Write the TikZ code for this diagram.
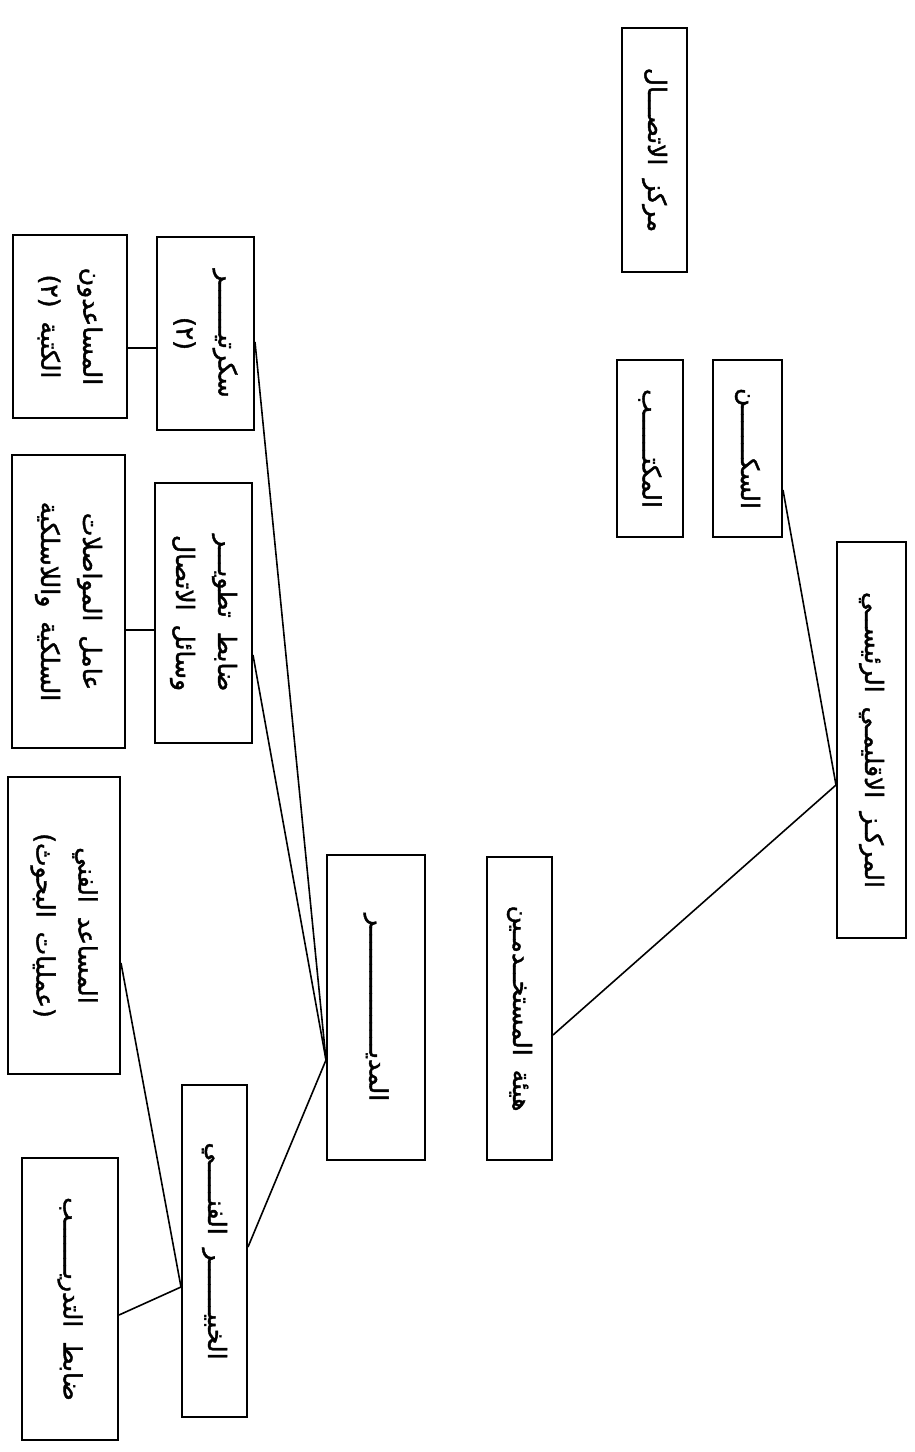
\documentclass[tikz,border=0pt]{standalone}
\usepackage{fontspec}
\newfontfamily\arabicfont[Script=Arabic, FakeBold=1.6]{DejaVu Sans}
\TeXXeTstate=1
\newcommand\arsetup{\arabicfont\fontsize{25}{42}\selectfont\spaceskip=14pt plus 4pt minus 2pt\relax}
\begin{document}
\begin{tikzpicture}[x=1pt,y=-1pt,
  box/.style={draw, line width=2pt, rotate=-90, inner sep=0pt, align=center, font=\arsetup},
  link/.style={line width=1.6pt}]
\useasboundingbox[fill=white] (0,0) rectangle (914,1452);
% top-level / right column
\node[box, minimum width=244pt, minimum height=65pt] (ittisal) at (654.5,150) {\beginR مركز الاتصـــال\endR};
\node[box, minimum width=177pt, minimum height=69pt] (sakan) at (747.5,448.5) {\beginR السكـــــــن\endR};
\node[box, minimum width=177pt, minimum height=66pt] (maktab) at (650,448.5) {\beginR المكتــــــب\endR};
\node[box, minimum width=396pt, minimum height=69pt] (root) at (871.5,740) {\beginR المركـز الاقليمـي الرئيســي\endR};
\node[box, minimum width=303pt, minimum height=65pt] (hayaa) at (519.5,1008.5) {\beginR هيئة المستخــدمـين\endR};
\node[box, minimum width=305pt, minimum height=98pt] (mudir) at (376,1007.5) {\beginR المديـــــــــــــــــر\endR};
% second level
\node[box, minimum width=193pt, minimum height=97pt] (sec) at (205.5,333.5) {\beginR سكرتيـــــــر\endR\\\beginR(٢)\endR};
\node[box, minimum width=183pt, minimum height=114pt] (clerks) at (70,326.5) {\beginR المساعدون\endR\\\beginR الكتبة (٢)\endR};
\node[box, minimum width=260pt, minimum height=97pt] (dev) at (203.5,613) {\beginR ضابط تطويـــر\endR\\\beginR وسائل الاتصال\endR};
\node[box, minimum width=293pt, minimum height=113pt] (wire) at (68.5,601.5) {\beginR عامل المواصلات\endR\\\beginR السلكية واللاسلكية\endR};
\node[box, minimum width=297pt, minimum height=112pt] (asst) at (64,925.5) {\beginR المساعد الفني\endR\\\beginR (عمليات البحوث)\endR};
\node[box, minimum width=332pt, minimum height=65pt] (khabir) at (214.5,1251) {\beginR الخبيـــــــر الفنـــــي\endR};
\node[box, minimum width=282pt, minimum height=96pt] (train) at (70,1299) {\beginR ضابط التدريـــــــب\endR};
% connectors
\draw[link] (sakan.north |- 0,490) -- (root.south |- 0,785);
\draw[link] (root.south |- 0,785) -- (hayaa.north |- 0,1035);
\draw[link] (sec.north |- 0,342) -- (mudir.south |- 0,1060);
\draw[link] (dev.north |- 0,655) -- (mudir.south |- 0,1060);
\draw[link] (khabir.north |- 0,1247) -- (mudir.south |- 0,1060);
\draw[link] (sec.south |- 0,348) -- (clerks.north |- 0,348);
\draw[link] (dev.south |- 0,630) -- (wire.north |- 0,630);
\draw[link] (asst.north |- 0,963) -- (khabir.south |- 0,1287);
\draw[link] (train.north |- 0,1315) -- (khabir.south |- 0,1287);
\end{tikzpicture}
\end{document}
